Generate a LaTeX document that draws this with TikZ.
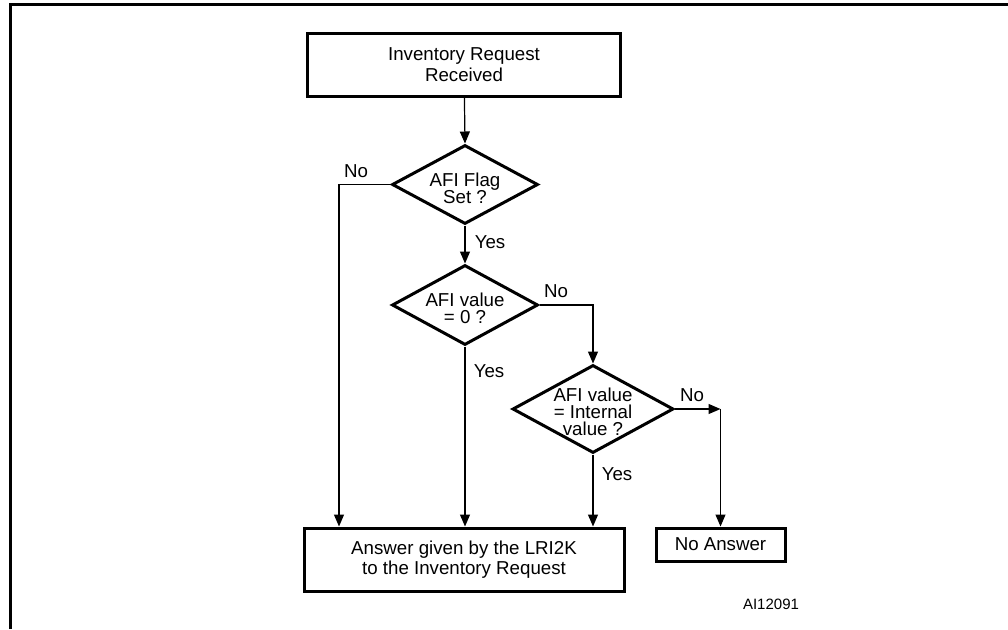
\documentclass[tikz,border=0pt]{standalone}
\usepackage{fontspec}
\setmainfont{Liberation Sans}
\usetikzlibrary{arrows.meta,shapes.geometric}
\begin{document}
\begin{tikzpicture}[x=1pt,y=-1pt,
  every node/.style={font=\fontsize{18.7}{20.5}\selectfont},
  box/.style={draw,line width=3pt,align=center,inner sep=0pt},
  dec/.style={draw,diamond,line width=3pt,inner sep=0pt},
  dectext/.style={align=center,inner sep=0pt,font=\fontsize{18.7}{17}\selectfont},
  conn/.style={line width=1.2pt,-{Triangle[length=12pt,width=10pt]}},
  lbl/.style={inner sep=0pt},
  frame/.style={line width=3pt}]
\useasboundingbox (0,0) rectangle (1008,629);
% frame
\coordinate (fb) at (10.5,629);
\coordinate (ftl) at (10.5,4.5);
\coordinate (ftr) at (1008,4.5);
\draw[frame] (fb) -- (ftl) -- (ftr);
% nodes
\node[box,minimum width=313pt,minimum height=63pt] (start) at (464,64.5) {Inventory Request\\Received};
\node[dec,minimum width=146pt,minimum height=79pt] (d1) at (465,184.5) {};
\node[dectext] (t1) at (465,188) {AFI Flag\\Set ?};
\node[dec,minimum width=146pt,minimum height=80pt] (d2) at (465,305) {};
\node[dectext] (t2) at (465,308) {AFI value\\= 0 ?};
\node[dec,minimum width=161pt,minimum height=88pt] (d3) at (593,409) {};
\node[dectext] (t3) at (593,412) {AFI value\\= Internal\\value ?};
\node[box,minimum width=320pt,minimum height=63pt] (ans) at (464,559.5) {Answer given by the LRI2K\\to the Inventory Request};
\node[box,minimum width=129pt,minimum height=33pt] (noans) at (720.5,544.5) {No Answer};
% corners
\coordinate (c1) at (339,184.5);
\coordinate (c2) at (593,305);
\coordinate (c3) at (720.5,409);
% connectors
\draw[conn] (start) -- (d1.north);
\draw[conn] (d1.south) -- (d2.north);
\draw[conn] (d1.west) -- (c1) -- (c1 |- ans.north);
\draw[conn] (d2.south) -- (d2.south |- ans.north);
\draw[conn] (d2.east) -- (c2) -- (d3.north);
\draw[conn] (d3.south) -- (d3.south |- ans.north);
\draw[conn] (d3.east) -- (c3);
\draw[conn] (c3) -- (noans.north);
% labels
\node[lbl] (l1) at (356,171) {No};
\node[lbl] (l2) at (490,242) {Yes};
\node[lbl] (l3) at (556,291) {No};
\node[lbl] (l4) at (489,371) {Yes};
\node[lbl] (l5) at (692,395) {No};
\node[lbl] (l6) at (617,474) {Yes};
\node[lbl,font=\fontsize{15}{17}\selectfont] (id) at (771,604) {AI12091};
\end{tikzpicture}
\end{document}
